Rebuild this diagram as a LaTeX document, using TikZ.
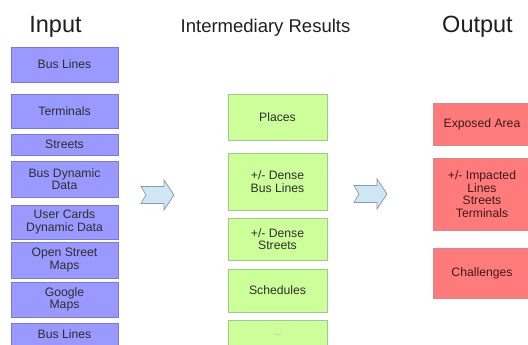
\documentclass[tikz,border=0pt]{standalone}
\usepackage{fontspec}
\setmainfont{Liberation Sans}
\usetikzlibrary{positioning}
\definecolor{cIn}  {HTML}{9999FF}
\definecolor{cInD} {HTML}{7A7AD6}
\definecolor{cMid} {HTML}{CCFF99}
\definecolor{cMidD}{HTML}{A3C98A}
\definecolor{cOut} {HTML}{FF7B7B}
\definecolor{cOutD}{HTML}{D08A8A}
\definecolor{cOutT}{HTML}{3E1A1A}
\definecolor{cArr} {HTML}{CFE7F5}
\definecolor{cArrD}{HTML}{8C9AA8}
\tikzset{
  fbox/.style={draw,line width=0.8pt,align=center,inner sep=1pt,outer sep=0pt,
               font=\fontsize{12.2}{12.6}\selectfont,text=black!82},
  sin/.style ={fbox,fill=cIn,draw=cInD,minimum width=107pt},
  smid/.style={fbox,fill=cMid,draw=cMidD,minimum width=99pt},
  sout/.style={fbox,fill=cOut,draw=cOutD,minimum width=98pt,text=cOutT},
  shead/.style={anchor=base,text=black!88},
  flowarrow/.pic={
    \draw[fill=cArr,draw=cArrD,line width=0.7pt]
      (0,-8.5) -- (23,-8.5) -- (23,-15) -- (33,0) -- (23,15) -- (23,8.5)
      -- (0,8.5) -- (5,0) -- cycle;},
}
\begin{document}
\begin{tikzpicture}[x=1pt,y=-1pt]
  \path[use as bounding box,clip] (0,0) rectangle (528,345);
  \fill[white] (0,0) rectangle (528,345);
  % column titles
  \node[shead,font=\fontsize{23.5}{24}\selectfont] (tin)  at (55.5,33)  {Input};
  \node[shead,font=\fontsize{18.5}{20}\selectfont] (tmid) at (265.5,33) {Intermediary Results};
  \node[shead,font=\fontsize{23.5}{24}\selectfont] (tout) at (477.5,33) {Output};
  % input column
  \node[sin,minimum height=35pt] (in1) at (64.5,64.5) {Bus Lines};
  \node[sin,minimum height=34pt,below=12pt of in1] (in2) {Terminals};
  \node[sin,minimum height=21pt,below=6pt of in2]  (in3) {Streets};
  \node[sin,minimum height=36pt,below=6pt of in3]  (in4) {Bus Dynamic\\Data};
  \node[sin,minimum height=34pt,below=8pt of in4]  (in5) {User Cards\\Dynamic Data};
  \node[sin,minimum height=36pt,below=3pt of in5]  (in6) {Open Street\\Maps};
  \node[sin,minimum height=35pt,below=4pt of in6]  (in7) {Google\\Maps};
  \node[sin,minimum height=22pt,below=6pt of in7]  (in8) {Bus Lines};
  % intermediary column
  \node[smid,minimum height=46pt] (md1) at (277.5,117) {Places};
  \node[smid,minimum height=57pt,below=13pt of md1] (md2) {+/- Dense\\Bus Lines};
  \node[smid,minimum height=42pt,below=8pt of md2]  (md3) {+/- Dense\\Streets};
  \node[smid,minimum height=43pt,below=9pt of md3]  (md4) {Schedules};
  \node[smid,minimum height=30pt,below=8pt of md4,text=black!35,
        font=\fontsize{9}{9}\selectfont] (md5) {...};
  % output column
  \node[sout,minimum height=42pt] (ot1) at (482,124) {Exposed Area};
  \node[sout,minimum height=72pt,below=13pt of ot1] (ot2) {+/- Impacted\\Lines\\Streets\\Terminals};
  \node[sout,minimum height=50pt,below=18pt of ot2] (ot3) {Challenges};
  % flow arrows between the columns
  \coordinate (ar1) at (141,195);
  \coordinate (ar2) at (354,194);
  \pic at (ar1) {flowarrow};
  \pic at (ar2) {flowarrow};
\end{tikzpicture}
\end{document}
